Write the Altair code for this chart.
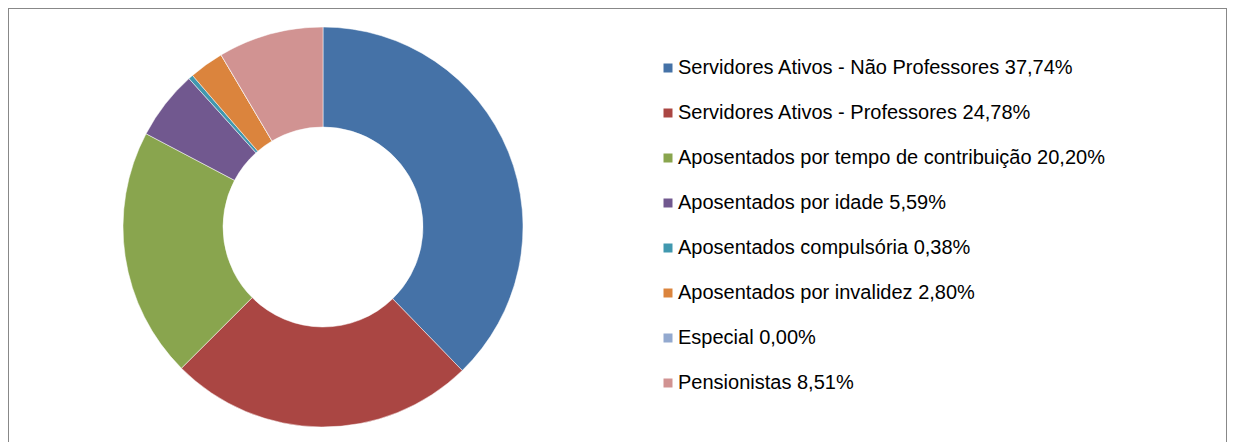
import altair as alt
import pandas as pd

categories = [
    "Servidores Ativos - Não Professores",
    "Servidores Ativos - Professores",
    "Aposentados por tempo de contribuição",
    "Aposentados por idade",
    "Aposentados compulsória",
    "Aposentados por invalidez",
    "Especial",
    "Pensionistas",
]
values = [37.74, 24.78, 20.20, 5.59, 0.38, 2.80, 0.00, 8.51]
colors = ["#4572A7", "#AA4643", "#89A54E", "#71588F", "#4198AF", "#DB843D", "#93A9CF", "#D19392"]

labels = [f"{c} {v:.2f}%".replace(".", ",") for c, v in zip(categories, values)]
df = pd.DataFrame({"label": labels, "value": values, "idx": list(range(len(values)))})

chart = alt.Chart(df).mark_arc(innerRadius=100, outerRadius=200, stroke="white", strokeWidth=0.5).encode(
    theta=alt.Theta("value:Q", stack=True),
    order=alt.Order("idx:Q"),
    color=alt.Color(
        "label:N",
        scale=alt.Scale(domain=labels, range=colors),
        sort=labels,
        legend=alt.Legend(
            title=None,
            orient="none",
            legendX=650,
            legendY=50,
            symbolType="square",
            symbolSize=81,
            symbolStrokeWidth=0,
            labelFontSize=20,
            labelFont="Liberation Sans",
            labelColor="#000000",
            labelOffset=0,
            rowPadding=25,
            labelLimit=700,
        ),
    ),
    x=alt.value(315),
    y=alt.value(219),
).properties(
    width=1219, height=440, padding=0
).configure_view(
    stroke="#888888", strokeWidth=2
)

chart.save("out.html", embed_options={"renderer": "svg", "actions": False})
